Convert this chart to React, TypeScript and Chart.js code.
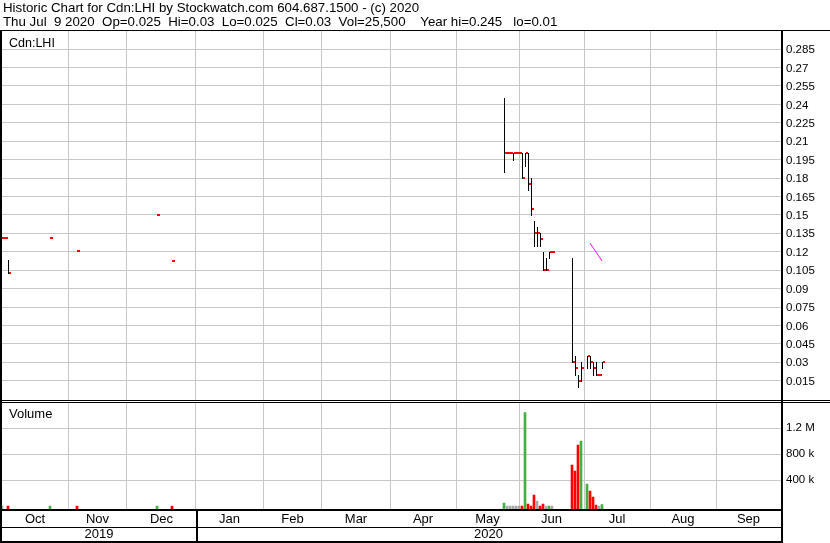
import React, { useEffect, useRef } from 'react';
import { Chart, registerables } from 'chart.js';

Chart.register(...registerables);

// ---------- text ----------
const HEADER_1 = 'Historic Chart for Cdn:LHI by Stockwatch.com 604.687.1500 - (c) 2020';
const HEADER_2 = 'Thu Jul  9 2020  Op=0.025  Hi=0.03  Lo=0.025  Cl=0.03  Vol=25,500    Year hi=0.245   lo=0.01';
const SYMBOL = 'Cdn:LHI';
const VOLUME_TITLE = 'Volume';

// ---------- x axis (trading-day slots) ----------
const X_MIN = 2 / 3;
const X_MAX = 781 / 3;
const MONTH_EDGES = [22.667, 42.333, 65.333, 87.667, 107.333, 130, 152, 173, 194.667, 216.667, 238.667];
const MONTH_LABELS = ['Oct', 'Nov', 'Dec', 'Jan', 'Feb', 'Mar', 'Apr', 'May', 'Jun', 'Jul', 'Aug', 'Sep'];
const YEAR_EDGES = [65.333];
const YEAR_LABELS = ['2019', '2020'];

// ---------- daily data ----------
const daySlots = [
  0.667, 1.667, 2.667, 16.667, 25.667, 52.333, 57.333,
  168, 169, 170, 171, 172, 173, 174, 175, 176, 177, 178, 179, 180, 181, 182, 183, 184,
  190.667, 191.667, 192.667, 193.667, 195.667, 196.667, 197.667, 198.667, 199.667, 200.667,
];
const highs: (number | null)[] = [
  null, null, 0.113, null, null, null, null,
  0.245, null, null, 0.2, null, null, 0.2, 0.2, 0.2, 0.18, 0.145, 0.14, 0.135, 0.12, 0.115, 0.12, null,
  0.115, 0.035, 0.02, 0.03, 0.035, 0.035, 0.03, 0.03, null, 0.03,
];
const lows: (number | null)[] = [
  null, null, 0.103, null, null, null, null,
  0.185, null, null, 0.195, null, null, 0.18, 0.19, 0.17, 0.15, 0.125, 0.125, 0.125, 0.105, 0.105, 0.115, null,
  0.03, 0.02, 0.01, 0.015, 0.025, 0.025, 0.02, 0.02, null, 0.025,
];
const closes = [
  0.131, 0.131, 0.103, 0.131, 0.121, 0.15, 0.1125,
  0.2, 0.2, 0.2, 0.2, 0.2, 0.2, 0.18, 0.2, 0.175, 0.155, 0.135, 0.135, 0.13, 0.105, 0.105, 0.12, 0.12,
  0.03, 0.025, 0.015, 0.025, 0.035, 0.03, 0.025, 0.02, 0.02, 0.03,
];
const volumes: (number | null)[] = [
  2000, null, 3000, 3000, 3000, 2000, 2000,
  50000, 2000, 2000, 2000, 2000, 2000, 3000, 1440000, 35000, 5000, 174000, 82000, 5000, 35000, 3000, 5000, 2000,
  635000, 543000, 943000, 1005000, 343000, 235000, 143000, 20000, 2000, 25500,
];

// magenta trend segment
const trendSlots = [196.667, 200.667];
const trendValues = [0.127, 0.1125];

// ---------- y axes ----------
const PRICE_MIN = -0.0019;
const PRICE_MAX = 0.2997;
const PRICE_TICKS = [0.015, 0.03, 0.045, 0.06, 0.075, 0.09, 0.105, 0.12, 0.135, 0.15, 0.165, 0.18, 0.195, 0.21, 0.225, 0.24, 0.255, 0.27, 0.285];
const VOL_MIN = -41500;
const VOL_MAX = 1612300;
const VOL_TICKS = [400000, 800000, 1200000];
const VOL_TICK_LABELS = ['400 k', '800 k', '1.2 M'];

// ---------- styles ----------
const GRID = '#c8c8c8';
const RED = '#ff0000';
const GREEN = '#44b044';
const GRAY = '#a8a8a8';
const SANS = "'Liberation Sans', Arial, sans-serif";

const volColor = (i: number) => {
  if (i === 0) return GRAY;
  const d = closes[i] - closes[i - 1];
  return d > 0 ? GREEN : d < 0 ? RED : GRAY;
};

const volIdx = daySlots.map((_, i) => i).filter((i) => volumes[i] != null);

const mids = (edges: number[]) => {
  const all = [X_MIN, ...edges, X_MAX];
  return all.slice(0, -1).map((v, i) => (v + all[i + 1]) / 2);
};

const stockPlugin = {
  id: 'stockwatchFrame',
  beforeDraw(chart: any) {
    const ctx = chart.ctx;
    ctx.save();
    ctx.fillStyle = '#ffffff';
    ctx.fillRect(0, 0, chart.width, chart.height);
    ctx.restore();
  },
  afterDatasetsDraw(chart: any) {
    const ctx = chart.ctx;
    const xs = chart.scales.x;
    const ys = chart.scales.y;
    ctx.save();
    daySlots.forEach((s, i) => {
      const px = Math.round(xs.getPixelForValue(s));
      const pc = Math.round(ys.getPixelForValue(closes[i]));
      const h = highs[i];
      const l = lows[i];
      if (h != null && l != null) {
        const ph = Math.round(ys.getPixelForValue(h));
        const pl = Math.round(ys.getPixelForValue(l));
        ctx.fillStyle = '#000000';
        ctx.fillRect(px, ph, 1, Math.max(1, pl - ph + 1));
        ctx.fillStyle = RED;
        ctx.fillRect(px + 1, pc - 1, 2, 2);
      } else {
        ctx.fillStyle = RED;
        ctx.fillRect(px, pc - 1, 3, 2);
      }
    });
    ctx.restore();
  },
  afterDraw(chart: any) {
    const ctx = chart.ctx;
    ctx.save();
    ctx.fillStyle = '#ffffff';
    ctx.fillRect(2, 401, 779, 1);
    ctx.fillStyle = '#000000';
    ctx.fillRect(0, 30, 830, 1);
    ctx.fillRect(0, 30, 2, 513);
    ctx.fillRect(781, 30, 2, 513);
    ctx.fillRect(0, 400, 830, 1);
    ctx.fillRect(0, 402, 830, 1);
    ctx.fillRect(0, 509, 783, 2);
    ctx.fillRect(0, 527, 783, 1);
    ctx.fillRect(196, 509, 2, 34);
    ctx.fillRect(0, 541, 783, 2);

    ctx.fillStyle = '#000000';
    ctx.textBaseline = 'alphabetic';
    ctx.textAlign = 'left';
    ctx.font = `13.3px ${SANS}`;
    ctx.fillText(HEADER_1, 3, 12);
    ctx.fillText(HEADER_2, 3, 26);
    ctx.font = `12.5px ${SANS}`;
    ctx.fillText(SYMBOL, 9, 47);
    ctx.font = `13px ${SANS}`;
    ctx.fillText(VOLUME_TITLE, 9, 418);
    ctx.restore();
  },
};

export default function App() {
  const ref = useRef<HTMLCanvasElement>(null);

  useEffect(() => {
    document.body.style.margin = '0';
    const canvas = ref.current;
    if (!canvas) return;

    const monthCenters = mids(MONTH_EDGES);
    const yearCenters = mids(YEAR_EDGES);

    const xBase = (ticks: number[], height: number) => ({
      type: 'linear',
      position: 'bottom',
      offset: false,
      min: X_MIN,
      max: X_MAX,
      afterBuildTicks: (s: any) => {
        s.ticks = ticks.map((v) => ({ value: v }));
      },
      afterFit: (s: any) => {
        s.height = height;
      },
      border: { display: false },
    });

    const chart = new Chart(canvas, {
      type: 'bar',
      data: {
        datasets: [
          {
            type: 'line',
            label: 'trend',
            data: trendSlots.map((s, i) => ({ x: s, y: trendValues[i] })),
            xAxisID: 'x',
            yAxisID: 'y',
            borderColor: '#ff00ff',
            borderWidth: 1,
            pointRadius: 0,
            fill: false,
          } as any,
          {
            type: 'bar',
            label: 'Volume',
            data: volIdx.map((i) => ({ x: daySlots[i], y: volumes[i] as number })),
            xAxisID: 'x',
            yAxisID: 'yv',
            backgroundColor: volIdx.map((i) => volColor(i)),
            barThickness: 2,
            grouped: false,
            base: VOL_MIN,
            borderWidth: 0,
          } as any,
        ],
      },
      options: {
        responsive: false,
        animation: false,
        devicePixelRatio: 1,
        events: [],
        layout: { padding: { left: 2, top: 31, right: 0, bottom: 0 }, autoPadding: false } as any,
        plugins: { legend: { display: false }, tooltip: { enabled: false } },
        scales: {
          x: {
            ...xBase(MONTH_EDGES, 2),
            ticks: { display: false },
            grid: { color: GRID, drawTicks: false, lineWidth: 1, offset: false },
          },
          xm: {
            ...xBase(monthCenters, 16),
            ticks: {
              autoSkip: false,
              maxRotation: 0,
              minRotation: 0,
              padding: 2,
              color: '#000000',
              font: { family: SANS, size: 13, lineHeight: 1 },
              callback: (_v: any, i: number) => MONTH_LABELS[i],
            },
            grid: { display: false, drawTicks: false, offset: false },
          },
          xy: {
            ...xBase(yearCenters, 16),
            ticks: {
              autoSkip: false,
              maxRotation: 0,
              minRotation: 0,
              padding: 1,
              color: '#000000',
              font: { family: SANS, size: 13, lineHeight: 1 },
              callback: (_v: any, i: number) => YEAR_LABELS[i],
            },
            grid: { display: false, drawTicks: false, offset: false },
          },
          y: {
            type: 'linear',
            position: 'right',
            stack: 'panels',
            stackWeight: 370.5,
            min: PRICE_MIN,
            max: PRICE_MAX,
            afterBuildTicks: (s: any) => {
              s.ticks = PRICE_TICKS.map((v) => ({ value: v }));
            },
            afterFit: (s: any) => {
              s.width = 49;
            },
            ticks: {
              autoSkip: false,
              padding: 5,
              labelOffset: 1,
              color: '#000000',
              font: { family: SANS, size: 11.5 },
              callback: (v: any) => String(v),
            },
            grid: { color: GRID, drawTicks: false },
            border: { display: false },
          },
          yv: {
            type: 'linear',
            position: 'right',
            stack: 'panels',
            stackWeight: 107.5,
            min: VOL_MIN,
            max: VOL_MAX,
            afterBuildTicks: (s: any) => {
              s.ticks = VOL_TICKS.map((v) => ({ value: v }));
            },
            afterFit: (s: any) => {
              s.width = 49;
            },
            ticks: {
              autoSkip: false,
              padding: 5,
              color: '#000000',
              font: { family: SANS, size: 11.5 },
              callback: (_v: any, i: number) => VOL_TICK_LABELS[i],
            },
            grid: { color: GRID, drawTicks: false },
            border: { display: false },
          },
        } as any,
      },
      plugins: [stockPlugin as any],
    });

    return () => chart.destroy();
  }, []);

  return (
    <div style={{ position: 'absolute', left: 0, top: 0, width: 830, height: 543 }}>
      <canvas ref={ref} width={830} height={543} style={{ display: 'block', width: 830, height: 543 }} />
    </div>
  );
}
